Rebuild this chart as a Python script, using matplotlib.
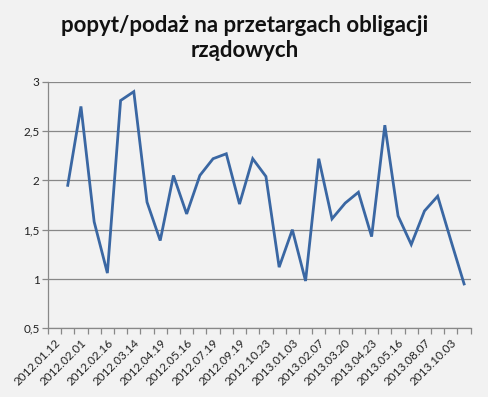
import matplotlib
matplotlib.use("Agg")
import matplotlib.pyplot as plt
import numpy as np

title = "popyt/podaż na przetargach obligacji\nrządowych"
tick_labels = ["2012.01.12", "2012.02.01", "2012.02.16", "2012.03.14", "2012.04.19",
               "2012.05.16", "2012.07.19", "2012.09.19", "2012.10.23", "2013.01.03",
               "2013.02.07", "2013.03.20", "2013.04.23", "2013.05.16", "2013.08.07",
               "2013.10.03"]
values = [np.nan, 1.95, 2.75, 1.58, 1.06, 2.81, 2.90, 1.78, 1.39, 2.05, 1.66,
          2.05, 2.22, 2.27, 1.76, 2.22, 2.04, 1.12, 1.50, 0.98, 2.22, 1.61,
          1.77, 1.88, 1.43, 2.56, 1.64, 1.35, 1.69, 1.84, 1.39, 0.95]
y_ticks = [0.5, 1, 1.5, 2, 2.5, 3]
y_tick_labels = ["0,5", "1", "1,5", "2", "2,5", "3"]

bg = "#f2f2f2"
plt.rcParams['font.family'] = ['Lato', 'DejaVu Sans']

fig = plt.figure(figsize=(4.89, 3.97), dpi=100, facecolor=bg)
ax = fig.add_axes([0.098, 0.173, 0.8646, 0.621], facecolor=bg)

x = np.arange(len(values))
ax.plot(x, values, color="#3a67a3", lw=2.0, solid_joinstyle="miter", zorder=3)

ax.set_xlim(-0.5, len(values) - 0.5)
ax.set_ylim(0.5, 3)

ax.set_yticks(y_ticks)
ax.set_yticklabels(y_tick_labels, fontsize=8.5, color="#222222")
ax.yaxis.grid(True, color="#888888", lw=0.9)
ax.set_axisbelow(True)
ax.tick_params(axis="y", length=4, width=0.9, color="#888888", pad=2)

ax.set_xticks(x[::2][:len(tick_labels)])
ax.set_xticklabels(tick_labels, rotation=45, ha="right", rotation_mode="anchor",
                   fontsize=8.5, color="#222222")
ax.set_xticks(np.arange(-0.5, len(values)), minor=True)
ax.tick_params(axis="x", which="major", length=0, pad=6)
ax.tick_params(axis="x", which="minor", length=4, width=0.9, color="#888888")

for s in ["top", "right"]:
    ax.spines[s].set_visible(False)
for s in ["left", "bottom"]:
    ax.spines[s].set_color("#888888")
    ax.spines[s].set_linewidth(0.9)

fig.text(0.5, 0.962, title, ha="center", va="top", fontsize=16,
         fontweight="bold", linespacing=1.25, color="#111111")

fig.savefig("out.png", dpi=100, facecolor=bg)
